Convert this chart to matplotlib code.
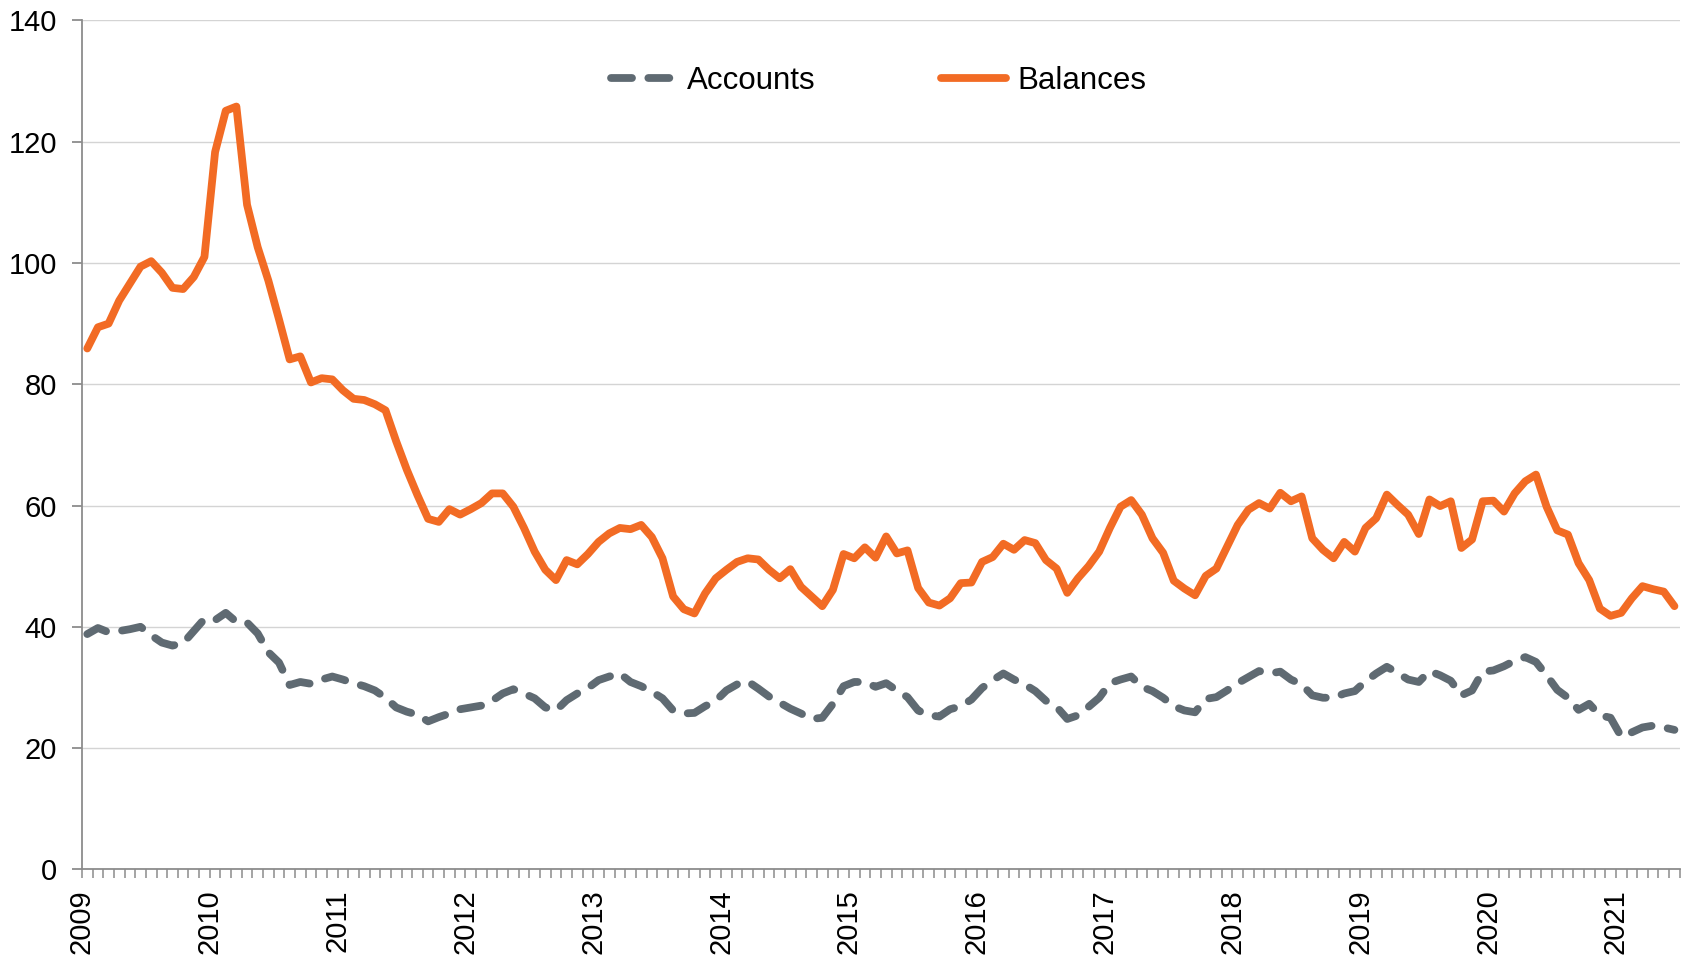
import matplotlib.pyplot as plt
import numpy as np

# monthly series, Jan 2009 - Jun 2021
start_year = 2009
accounts = [
    38.8, 39.8, 39.1, 39.3, 39.6, 40.0, 38.6, 37.4, 36.9, 37.3, 39.3, 41.3,
    41.1, 42.3, 40.8, 40.7, 38.9, 35.8, 34.1, 30.4, 30.9, 30.6, 31.3, 31.8,
    31.3, 30.7, 30.2, 29.5, 28.3, 26.7, 26.0, 25.5, 24.4, 25.1, 25.7, 26.4,
    26.7, 27.0, 27.8, 29.0, 29.7, 29.0, 28.2, 26.7, 26.2, 27.9, 29.0, 29.9,
    31.2, 31.8, 32.3, 30.9, 30.2, 29.3, 28.2, 26.2, 25.7, 25.8, 26.9, 27.8,
    29.5, 30.5, 31.0, 29.8, 28.5, 27.5, 26.5, 25.7, 24.8, 25.0, 27.3, 30.2,
    30.9, 30.9, 30.1, 30.7, 29.5, 28.4, 26.2, 25.4, 25.2, 26.4, 26.9, 28.0,
    29.9, 31.2, 32.3, 31.3, 30.5, 29.4, 27.8, 26.8, 24.8, 25.4, 26.8, 28.3,
    30.7, 31.3, 31.8, 30.1, 29.4, 28.3, 26.9, 26.2, 25.9, 28.1, 28.4, 29.5,
    30.7, 31.7, 32.7, 32.3, 32.6, 31.3, 30.5, 28.7, 28.3, 28.3, 29.0, 29.4,
    31.0, 32.3, 33.4, 32.4, 31.3, 30.9, 32.7, 32.0, 31.1, 28.7, 29.5, 32.6,
    32.8, 33.5, 34.4, 35.0, 34.2, 32.0, 29.6, 28.3, 26.3, 27.3, 25.4, 25.0,
    21.9, 22.6, 23.4, 23.7, 23.4, 23.0,
]
balances = [
    85.9, 89.4, 90.0, 93.8, 96.6, 99.4, 100.3, 98.4, 95.9, 95.7, 97.7, 101.0,
    118.3, 125.1, 125.8, 109.6, 102.6, 97.1, 90.7, 84.1, 84.6, 80.3, 81.0, 80.8,
    79.0, 77.6, 77.4, 76.7, 75.7, 70.6, 65.9, 61.7, 57.8, 57.3, 59.4, 58.5,
    59.4, 60.4, 62.0, 62.0, 59.8, 56.3, 52.4, 49.4, 47.7, 51.0, 50.3, 52.0,
    54.0, 55.4, 56.3, 56.1, 56.8, 54.8, 51.3, 45.0, 42.9, 42.2, 45.5, 48.0,
    49.4, 50.7, 51.3, 51.1, 49.4, 48.0, 49.5, 46.6, 45.0, 43.4, 46.1, 52.0,
    51.3, 53.1, 51.4, 54.9, 52.1, 52.6, 46.4, 44.0, 43.5, 44.7, 47.2, 47.3,
    50.7, 51.5, 53.7, 52.7, 54.3, 53.8, 51.0, 49.6, 45.6, 48.0, 50.0, 52.4,
    56.3, 59.8, 60.9, 58.5, 54.6, 52.2, 47.6, 46.3, 45.2, 48.4, 49.6, 53.2,
    56.8, 59.3, 60.4, 59.5, 62.1, 60.7, 61.5, 54.6, 52.7, 51.3, 54.0, 52.4,
    56.3, 57.9, 61.8, 60.1, 58.5, 55.3, 61.0, 59.9, 60.7, 53.0, 54.4, 60.7,
    60.8, 59.0, 62.0, 64.0, 65.1, 59.8, 55.9, 55.2, 50.5, 47.7, 43.0, 41.8,
    42.3, 44.7, 46.7, 46.2, 45.8, 43.4,
]

n = len(balances)
years = list(range(start_year, 2022))

plt.rcParams['font.family'] = ['Liberation Sans', 'DejaVu Sans']

fig = plt.figure(figsize=(16.86, 9.55), dpi=100)
ax = fig.add_axes([0.0486, 0.0897, 0.9477, 0.8889])

x = np.arange(n) + 0.5
ax.plot(x, accounts, color='#5F6A72', lw=5.6, linestyle=(0, (2.7, 2.1)),
        dash_capstyle='round', dash_joinstyle='round', label='Accounts', zorder=3)
ax.plot(x, balances, color='#F26B24', lw=5.6,
        solid_capstyle='round', solid_joinstyle='round', label='Balances', zorder=3)

ax.set_xlim(0, 150)
ax.set_ylim(0, 140)
ax.set_yticks(range(0, 141, 20))
ax.set_xticks([12 * i for i in range(len(years))])
ax.set_xticklabels([str(y) for y in years], rotation=90)
ax.set_xticks(range(0, 151), minor=True)

ax.grid(axis='y', color='#D4D4D4', linewidth=1.0, zorder=0)
ax.set_axisbelow(True)

for side in ('top', 'right'):
    ax.spines[side].set_visible(False)
for side in ('left', 'bottom'):
    ax.spines[side].set_color('#8C8C8C')
    ax.spines[side].set_linewidth(1.3)

ax.tick_params(axis='y', which='major', length=7, width=1.3, color='#8C8C8C',
               labelsize=21, pad=11)
ax.tick_params(axis='x', which='both', length=6.5, width=1.1, color='#8C8C8C',
               labelsize=21, pad=8)

ax.legend(loc='center', bbox_to_anchor=(0.521, 0.915), bbox_transform=fig.transFigure,
          ncol=2, frameon=False, fontsize=22.5, handlelength=2.1,
          handletextpad=0.35, columnspacing=4.0)

fig.savefig('out.png', dpi=100)
